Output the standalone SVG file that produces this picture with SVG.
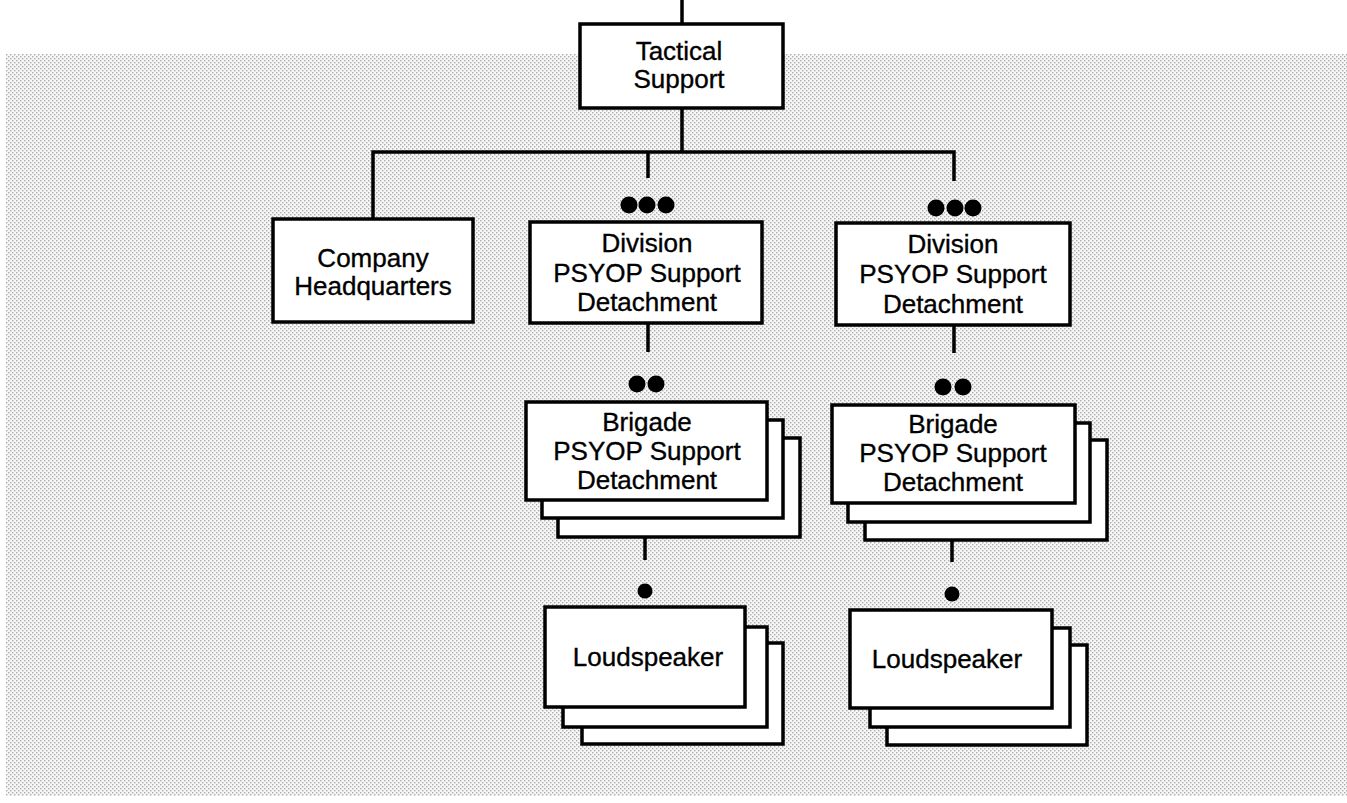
<svg xmlns="http://www.w3.org/2000/svg" width="1347" height="803" viewBox="0 0 1347 803">
<defs>
<pattern id="dither" width="4" height="4" patternUnits="userSpaceOnUse">
<rect width="4" height="4" fill="#f7f7f7"/>
<rect x="0" y="0" width="1.4" height="1.4" fill="#ababab"/>
<rect x="2" y="2" width="1.4" height="1.4" fill="#ababab"/>
</pattern>
</defs>
<style>
.box{fill:#fff;stroke:#000;stroke-width:3.5}
.ln{stroke:#000;stroke-width:3.5;fill:none}
.dot{fill:#000}
text{font-family:"Liberation Sans",Arial,sans-serif;font-size:26px;fill:#000;stroke:#000;stroke-width:0.35;text-anchor:middle}
</style>
<rect width="1347" height="803" fill="#fff"/>
<rect x="6" y="54" width="1341" height="742" fill="url(#dither)"/>

<g id="connectors">
<line class="ln" x1="682" y1="0" x2="682" y2="24"/>
<line class="ln" x1="682" y1="108" x2="682" y2="152"/>
<polyline class="ln" points="373,219 373,152 954,152 954,181"/>
<line class="ln" x1="648" y1="152" x2="648" y2="178"/>
<line class="ln" x1="648" y1="323" x2="648" y2="352"/>
<line class="ln" x1="954" y1="325" x2="954" y2="353"/>
<line class="ln" x1="645" y1="537" x2="645" y2="560"/>
<line class="ln" x1="952" y1="540" x2="952" y2="562"/>
<circle class="dot" cx="629" cy="205" r="8.5"/>
<circle class="dot" cx="647" cy="205" r="8.5"/>
<circle class="dot" cx="666" cy="205" r="8.5"/>
<circle class="dot" cx="936" cy="208" r="8.5"/>
<circle class="dot" cx="955" cy="208" r="8.5"/>
<circle class="dot" cx="973" cy="208" r="8.5"/>
<circle class="dot" cx="637" cy="384" r="8.5"/>
<circle class="dot" cx="656" cy="384" r="8.5"/>
<circle class="dot" cx="943" cy="387" r="8.5"/>
<circle class="dot" cx="963" cy="387" r="8.5"/>
<circle class="dot" cx="645" cy="591" r="7.5"/>
<circle class="dot" cx="952" cy="594" r="7.5"/>
</g>

<g id="tactical-support">
<rect class="box" x="580" y="24" width="203" height="84"/>
<text x="679" y="60">Tactical</text>
<text x="679" y="88">Support</text>
</g>

<g id="company-hq">
<rect class="box" x="273" y="219" width="200" height="103"/>
<text x="373" y="267">Company</text>
<text x="373" y="295">Headquarters</text>
</g>

<g id="division-1">
<rect class="box" x="530" y="222" width="232" height="101"/>
<text x="647" y="252">Division</text>
<text x="647" y="282">PSYOP Support</text>
<text x="647" y="311">Detachment</text>
</g>

<g id="division-2">
<rect class="box" x="836" y="223" width="234" height="102"/>
<text x="953" y="253">Division</text>
<text x="953" y="283">PSYOP Support</text>
<text x="953" y="313">Detachment</text>
</g>

<g id="brigade-1">
<rect class="box" x="558" y="438" width="242" height="99"/>
<rect class="box" x="542" y="420" width="241" height="98"/>
<rect class="box" x="526" y="402" width="241" height="98"/>
<text x="647" y="431">Brigade</text>
<text x="647" y="460">PSYOP Support</text>
<text x="647" y="489">Detachment</text>
</g>

<g id="brigade-2">
<rect class="box" x="865" y="440" width="242" height="100"/>
<rect class="box" x="848" y="423" width="242" height="99"/>
<rect class="box" x="832" y="405" width="243" height="98"/>
<text x="953" y="433">Brigade</text>
<text x="953" y="462">PSYOP Support</text>
<text x="953" y="491">Detachment</text>
</g>

<g id="loudspeaker-1">
<rect class="box" x="582" y="643" width="201" height="101"/>
<rect class="box" x="563" y="627" width="204" height="100"/>
<rect class="box" x="545" y="607" width="200" height="100"/>
<text x="648" y="666">Loudspeaker</text>
</g>

<g id="loudspeaker-2">
<rect class="box" x="887" y="645" width="200" height="100"/>
<rect class="box" x="870" y="628" width="200" height="99"/>
<rect class="box" x="850" y="610" width="202" height="98"/>
<text x="947" y="668">Loudspeaker</text>
</g>
</svg>
